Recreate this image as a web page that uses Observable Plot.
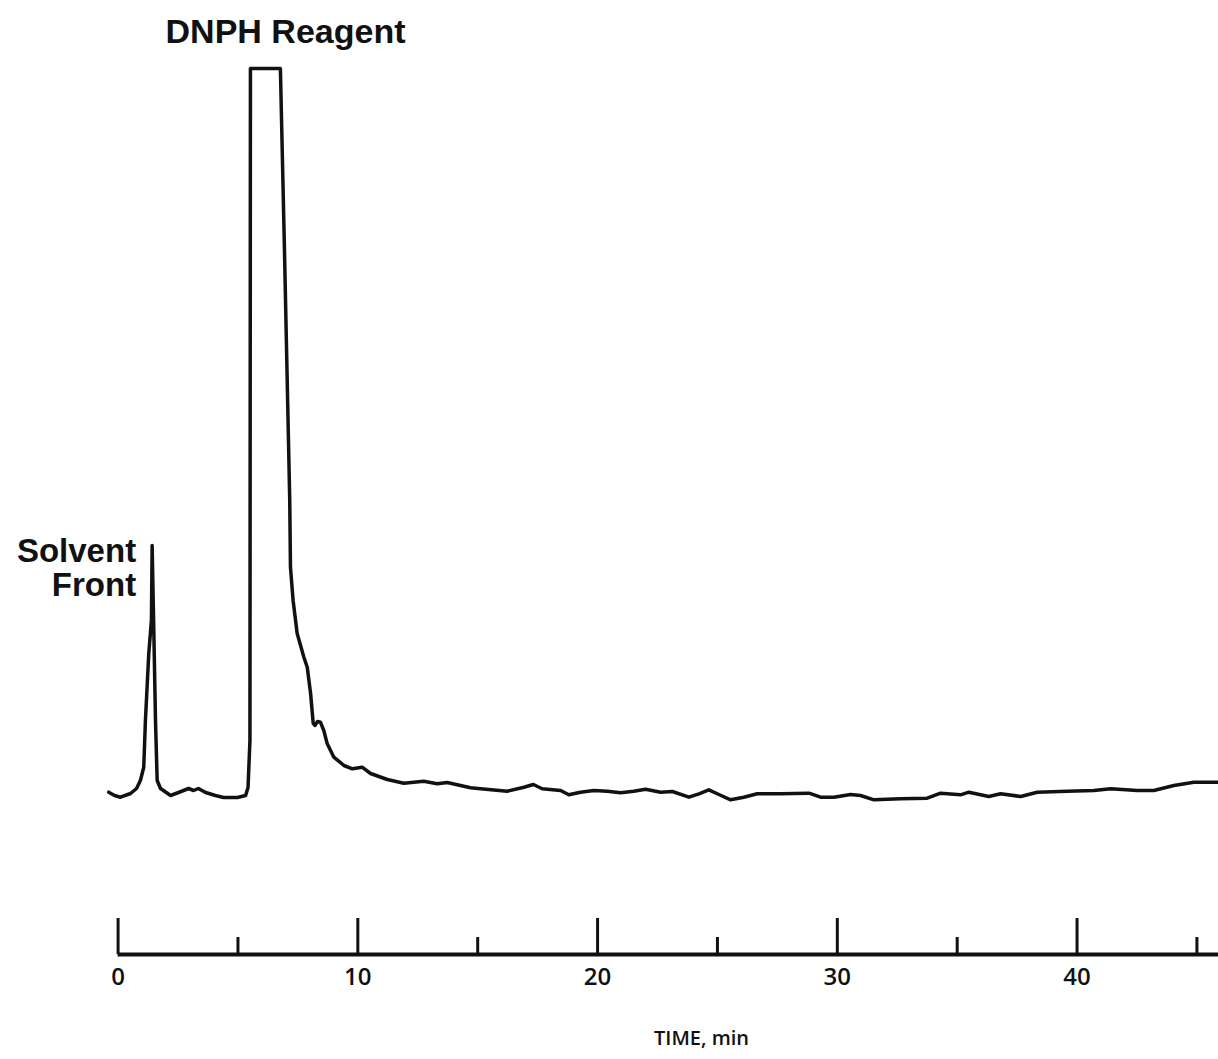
<!DOCTYPE html>
<html>
<head>
<meta charset="utf-8">
<script src="https://cdn.jsdelivr.net/npm/d3@7"></script>
<script src="https://cdn.jsdelivr.net/npm/@observablehq/plot@0.6"></script>
<style>
  html, body { margin: 0; padding: 0; background: #fff; }
  #chart svg { display: block; }
</style>
</head>
<body>
<div id="chart"></div>
<script>
// Retention time (min) and detector response (arbitrary units)
const time = [
  -0.39, -0.15, 0.10, 0.52, 0.77, 0.93, 1.07, 1.14, 1.28, 1.39, 1.42, 1.49, 1.56, 1.63, 1.77,
  2.19, 2.52, 2.94, 3.15, 3.35, 3.65, 4.06, 4.40, 4.98, 5.32, 5.42, 5.50, 5.52, 6.77, 6.94,
  7.16, 7.19, 7.30, 7.47, 7.75, 7.89, 8.03, 8.14, 8.21, 8.32, 8.44, 8.58, 8.72, 9.00, 9.42,
  9.77, 10.18, 10.53, 11.23, 11.92, 12.75, 13.31, 13.73, 14.70, 15.12, 16.23, 16.93, 17.32,
  17.69, 18.46, 18.80, 19.29, 19.85, 20.40, 20.96, 21.51, 22.00, 22.63, 23.12, 23.81, 24.23,
  24.64, 25.06, 25.55, 26.10, 26.66, 27.63, 28.82, 29.30, 29.86, 30.55, 30.97, 31.53, 32.64,
  33.75, 34.31, 35.14, 35.49, 36.32, 36.81, 37.65, 38.34, 39.59, 40.70, 41.40, 42.51, 43.20,
  44.04, 44.87, 45.90
];
const response = [
  162.3, 159, 157.3, 161, 166, 174, 187.3, 234, 301, 334, 409, 324, 234, 174, 166,
  159, 162, 166, 164, 166, 162, 159, 157, 157, 159, 167, 214, 886, 886, 704,
  454, 387.3, 354, 321, 297.3, 287.3, 261, 231, 229, 233, 232.3, 224, 211, 197.3, 189,
  185.7, 187.3, 181, 175, 171.3, 173.3, 170.7, 172, 166.7, 165.7, 163.3, 167.3, 170,
  165.7, 164, 159.7, 162.3, 164, 163.3, 161.7, 163.3, 165.3, 162.3, 163, 157.3, 160.7,
  164.7, 160, 154.7, 157.3, 160.7, 160.7, 161.3, 157.3, 157.3, 160, 159, 154.7, 155.7,
  156.3, 161.3, 159.7, 162.3, 158, 160.7, 158, 162.3, 163.3, 164, 165.7, 164, 164,
  169, 172.3, 172.3
];

// Peak annotations
const peakLabels = ["Solvent\nFront", "DNPH Reagent"];
const peakTimes = [1.42, 6.15];
const peakHeights = [409, 886];

// Time axis ticks
const majorTicks = [0, 10, 20, 30, 40];
const minorTicks = [5, 15, 25, 35, 45];
const tickLabels = ["0", "10", "20", "30", "40"];
const axisTitle = "TIME, min";

const trace = time.map((t, i) => ({t, v: response[i]}));
const ink = "#111";

const chart = Plot.plot({
  width: 1218,
  height: 1059,
  marginLeft: 108,
  marginRight: 0,
  marginTop: 0,
  marginBottom: 105,
  x: {domain: [-0.4, 45.9]},
  y: {domain: [0, 954], axis: null},
  style: {background: "#fff", color: ink},
  marks: [
    // axis baseline and tick marks
    Plot.ruleY([0], {x1: 0, x2: 45.9, stroke: ink, strokeWidth: 4}),
    Plot.ruleX(majorTicks, {y1: 0, y2: 36, stroke: ink, strokeWidth: 3}),
    Plot.ruleX(minorTicks, {y1: 0, y2: 17, stroke: ink, strokeWidth: 3}),
    Plot.axisX({
      ticks: majorTicks,
      tickFormat: (d, i) => tickLabels[i],
      tickSize: 0,
      tickPadding: 13,
      fontSize: 24,
      fontWeight: 600,
      fontFamily: "Open Sans",
      label: null,
      fill: ink
    }),
    Plot.text([axisTitle], {
      frameAnchor: "bottom",
      dx: 38,
      dy: 84,
      fontSize: 20,
      fontWeight: 600,
      fontFamily: "Open Sans",
      fill: ink,
      lineAnchor: "middle"
    }),
    // chromatogram trace
    Plot.line(trace, {x: "t", y: "v", stroke: ink, strokeWidth: 3.5, strokeLinejoin: "round"}),
    // annotations
    Plot.text([0], {
      x: () => peakTimes[0], y: () => peakHeights[0],
      text: () => peakLabels[0],
      textAnchor: "end", lineAnchor: "middle", dx: -16, dy: 23,
      fontSize: 33, fontWeight: "bold", fontFamily: "Liberation Sans", fill: ink, lineHeight: 1.02
    }),
    Plot.text([1], {
      x: () => peakTimes[1], y: () => peakHeights[1],
      text: () => peakLabels[1],
      textAnchor: "middle", lineAnchor: "middle", dx: 20, dy: -36,
      fontSize: 34, fontWeight: "bold", fontFamily: "Liberation Sans", fill: ink
    })
  ]
});

document.getElementById("chart").append(chart);
</script>
</body>
</html>
